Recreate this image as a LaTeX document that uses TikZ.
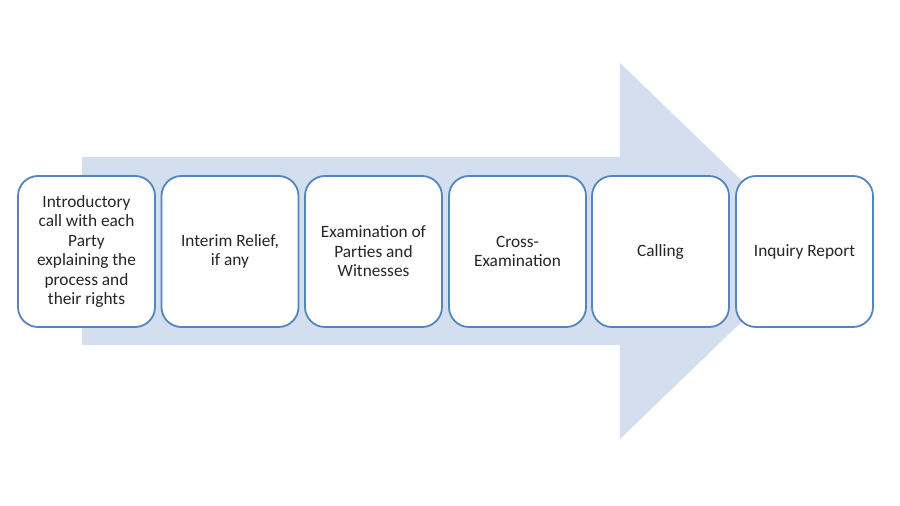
\documentclass[tikz,border=0pt]{standalone}
\usepackage{fontspec}
\setmainfont{Carlito}
\definecolor{arrowfill}{HTML}{D3DEEF}
\definecolor{boxline}{HTML}{5585BE}
\begin{document}
\begin{tikzpicture}[x=1bp,y=-1bp,
  stepbox/.style={draw=boxline, line width=1.8bp, fill=white, rounded corners=20bp,
    minimum width=137bp, minimum height=151bp, inner sep=0pt, align=center,
    font=\fontsize{17.3bp}{19.5bp}\selectfont, text=black!85}]
\useasboundingbox (0,0) rectangle (900,506);
\fill[arrowfill] (82,157) -- (620,157) -- (620,63) -- (815,251) -- (620,439) -- (620,345) -- (82,345) -- cycle;
\node[stepbox] (s1) at (86.5,251.5) {Introductory\\call with each\\Party\\explaining the\\process and\\their rights};
\node[stepbox] (s2) at (230,251.5) {Interim Relief,\\if any};
\node[stepbox] (s3) at (373.5,251.5) {Examination of\\Parties and\\Witnesses};
\node[stepbox] (s4) at (517.5,251.5) {Cross-\\Examination};
\node[stepbox] (s5) at (660.5,251.5) {Calling};
\node[stepbox] (s6) at (804.5,251.5) {Inquiry Report};
\end{tikzpicture}
\end{document}
